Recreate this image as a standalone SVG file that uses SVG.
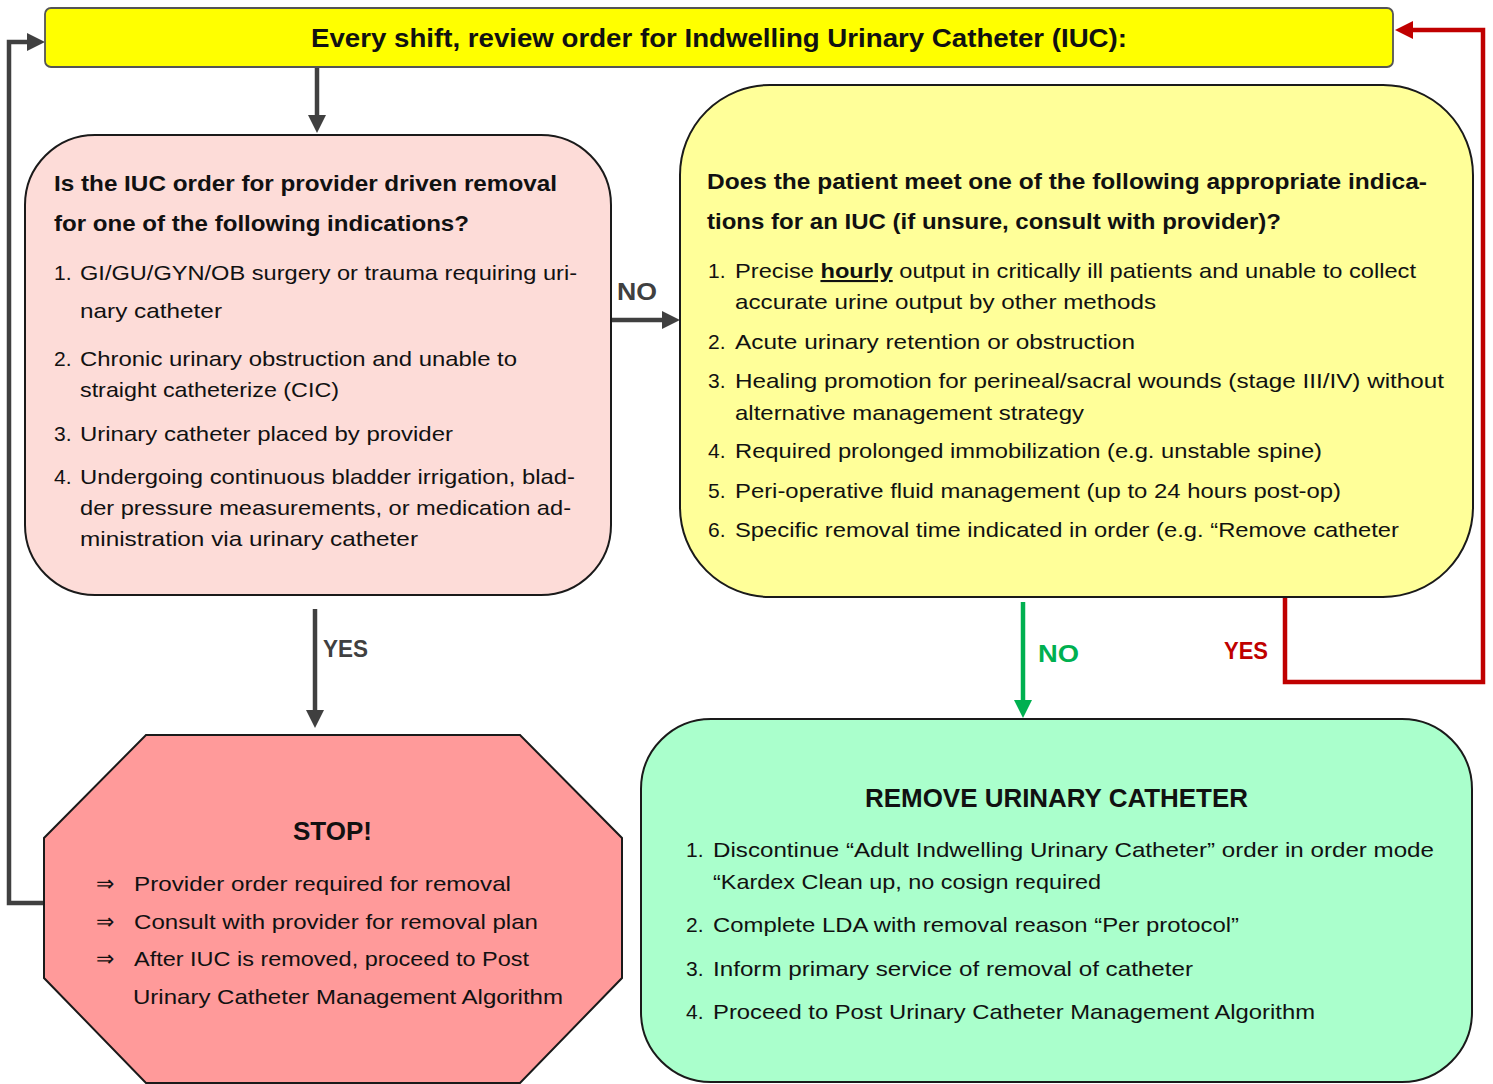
<svg xmlns="http://www.w3.org/2000/svg" width="1493" height="1084" viewBox="0 0 1493 1084">
<style>
text{font-family:"Liberation Sans",Arial,sans-serif;fill:#111;}
.b{font-weight:bold;}
.t{font-size:21px;}
.h{font-size:22px;font-weight:bold;}
.lbl{font-size:23px;font-weight:bold;}
.box{stroke:#1a1a1a;stroke-width:2;}
.cg{fill:none;stroke:#404040;stroke-width:4.5;}
.cr{fill:none;stroke:#c00000;stroke-width:4.5;}
.cgr{fill:none;stroke:#00b050;stroke-width:4.5;}
</style>
<defs>
<marker id="ag" viewBox="0 0 10 10" refX="5" refY="5" markerWidth="18" markerHeight="18" markerUnits="userSpaceOnUse" orient="auto"><path d="M0,0 L10,5 L0,10 z" fill="#404040"/></marker>
<marker id="ar" viewBox="0 0 10 10" refX="5" refY="5" markerWidth="18" markerHeight="18" markerUnits="userSpaceOnUse" orient="auto"><path d="M0,0 L10,5 L0,10 z" fill="#c00000"/></marker>
<marker id="agr" viewBox="0 0 10 10" refX="5" refY="5" markerWidth="18" markerHeight="18" markerUnits="userSpaceOnUse" orient="auto"><path d="M0,0 L10,5 L0,10 z" fill="#00b050"/></marker>
</defs>
<rect width="1493" height="1084" fill="#ffffff"/>

<g id="connectors">
<path class="cg" d="M317,67 V124" marker-end="url(#ag)"/>
<path class="cg" d="M611,320 H671" marker-end="url(#ag)"/>
<path class="cg" d="M315,609 V719" marker-end="url(#ag)"/>
<path class="cgr" d="M1023,602 V709" marker-end="url(#agr)"/>
<path class="cr" d="M1285,597 V682 H1483 V30 H1404" marker-end="url(#ar)"/>
<path class="cg" d="M44,903 H9 V42 H36" marker-end="url(#ag)"/>
<text class="lbl" x="617" y="300" style="fill:#404040" textLength="40" lengthAdjust="spacingAndGlyphs">NO</text>
<text class="lbl" x="323" y="657" style="fill:#404040" textLength="45" lengthAdjust="spacingAndGlyphs">YES</text>
<text class="lbl" x="1038" y="662" style="fill:#00b050" textLength="41" lengthAdjust="spacingAndGlyphs">NO</text>
<text class="lbl" x="1224" y="659" style="fill:#c00000" textLength="44" lengthAdjust="spacingAndGlyphs">YES</text>
</g>

<g id="top">
<rect x="45" y="8" width="1348" height="59" rx="6" fill="#ffff00" stroke="#555" stroke-width="1.8"/>
<text class="b" x="311" y="47" font-size="26" textLength="816" lengthAdjust="spacingAndGlyphs">Every shift, review order for Indwelling Urinary Catheter (IUC):</text>
</g>

<g id="provider-question">
<rect class="box" x="25" y="135" width="586" height="460" rx="70" fill="#fddcd8"/>
<text class="h" x="54" y="191" textLength="503" lengthAdjust="spacingAndGlyphs">Is the IUC order for provider driven removal</text>
<text class="h" x="54" y="231" textLength="415" lengthAdjust="spacingAndGlyphs">for one of the following indications?</text>
<text class="t" x="54" y="280">1.</text>
<text class="t" x="80" y="280" textLength="497" lengthAdjust="spacingAndGlyphs">GI/GU/GYN/OB surgery or trauma requiring uri-</text>
<text class="t" x="80" y="318" textLength="142" lengthAdjust="spacingAndGlyphs">nary catheter</text>
<text class="t" x="54" y="366">2.</text>
<text class="t" x="80" y="366" textLength="437" lengthAdjust="spacingAndGlyphs">Chronic urinary obstruction and unable to</text>
<text class="t" x="80" y="397" textLength="259" lengthAdjust="spacingAndGlyphs">straight catheterize (CIC)</text>
<text class="t" x="54" y="441">3.</text>
<text class="t" x="80" y="441" textLength="373" lengthAdjust="spacingAndGlyphs">Urinary catheter placed by provider</text>
<text class="t" x="54" y="484">4.</text>
<text class="t" x="80" y="484" textLength="495" lengthAdjust="spacingAndGlyphs">Undergoing continuous bladder irrigation, blad-</text>
<text class="t" x="80" y="515" textLength="491" lengthAdjust="spacingAndGlyphs">der pressure measurements, or medication ad-</text>
<text class="t" x="80" y="546" textLength="338" lengthAdjust="spacingAndGlyphs">ministration via urinary catheter</text>
</g>

<g id="indications-question">
<rect class="box" x="680" y="85" width="793" height="512" rx="90" fill="#ffff99"/>
<text class="h" x="707" y="189" textLength="720" lengthAdjust="spacingAndGlyphs">Does the patient meet one of the following appropriate indica-</text>
<text class="h" x="707" y="229" textLength="574" lengthAdjust="spacingAndGlyphs">tions for an IUC (if unsure, consult with provider)?</text>
<text class="t" x="708" y="278">1.</text>
<text class="t" x="735" y="278" textLength="681" lengthAdjust="spacingAndGlyphs">Precise <tspan font-weight="bold" text-decoration="underline">hourly</tspan> output in critically ill patients and unable to collect</text>
<text class="t" x="735" y="309" textLength="421" lengthAdjust="spacingAndGlyphs">accurate urine output by other methods</text>
<text class="t" x="708" y="349">2.</text>
<text class="t" x="735" y="349" textLength="400" lengthAdjust="spacingAndGlyphs">Acute urinary retention or obstruction</text>
<text class="t" x="708" y="388">3.</text>
<text class="t" x="735" y="388" textLength="709" lengthAdjust="spacingAndGlyphs">Healing promotion for perineal/sacral wounds (stage III/IV)  without</text>
<text class="t" x="735" y="420" textLength="349" lengthAdjust="spacingAndGlyphs">alternative management strategy</text>
<text class="t" x="708" y="458">4.</text>
<text class="t" x="735" y="458" textLength="587" lengthAdjust="spacingAndGlyphs">Required prolonged immobilization (e.g. unstable spine)</text>
<text class="t" x="708" y="498">5.</text>
<text class="t" x="735" y="498" textLength="606" lengthAdjust="spacingAndGlyphs">Peri-operative fluid management (up to 24 hours post-op)</text>
<text class="t" x="708" y="537">6.</text>
<text class="t" x="735" y="537" textLength="664" lengthAdjust="spacingAndGlyphs">Specific removal time indicated in order (e.g. “Remove catheter</text>
</g>

<g id="stop">
<polygon class="box" points="146,735 520,735 622,838 622,978 520,1083 146,1083 44,978 44,838" fill="#ff9a9a"/>
<text class="b" x="293" y="840" font-size="25" textLength="79" lengthAdjust="spacingAndGlyphs">STOP!</text>
<text x="96" y="891" font-size="22">⇒</text>
<text class="t" x="134" y="891" textLength="377" lengthAdjust="spacingAndGlyphs">Provider order required for removal</text>
<text x="96" y="929" font-size="22">⇒</text>
<text class="t" x="134" y="929" textLength="404" lengthAdjust="spacingAndGlyphs">Consult with provider for removal plan</text>
<text x="96" y="966" font-size="22">⇒</text>
<text class="t" x="134" y="966" textLength="395" lengthAdjust="spacingAndGlyphs">After IUC is removed, proceed to Post</text>
<text class="t" x="133" y="1004" textLength="430" lengthAdjust="spacingAndGlyphs">Urinary Catheter Management Algorithm</text>
</g>

<g id="remove">
<rect class="box" x="641" y="719" width="831" height="363" rx="70" fill="#aaffcc"/>
<text class="b" x="865" y="807" font-size="25" textLength="383" lengthAdjust="spacingAndGlyphs">REMOVE URINARY CATHETER</text>
<text class="t" x="686" y="857">1.</text>
<text class="t" x="713" y="857" textLength="721" lengthAdjust="spacingAndGlyphs">Discontinue “Adult Indwelling Urinary Catheter” order in order mode</text>
<text class="t" x="713" y="889" textLength="388" lengthAdjust="spacingAndGlyphs">“Kardex Clean up, no cosign required</text>
<text class="t" x="686" y="932">2.</text>
<text class="t" x="713" y="932" textLength="526" lengthAdjust="spacingAndGlyphs">Complete LDA with removal reason “Per protocol”</text>
<text class="t" x="686" y="976">3.</text>
<text class="t" x="713" y="976" textLength="480" lengthAdjust="spacingAndGlyphs">Inform primary service of removal of catheter</text>
<text class="t" x="686" y="1019">4.</text>
<text class="t" x="713" y="1019" textLength="602" lengthAdjust="spacingAndGlyphs">Proceed to Post Urinary Catheter Management Algorithm</text>
</g>
</svg>
